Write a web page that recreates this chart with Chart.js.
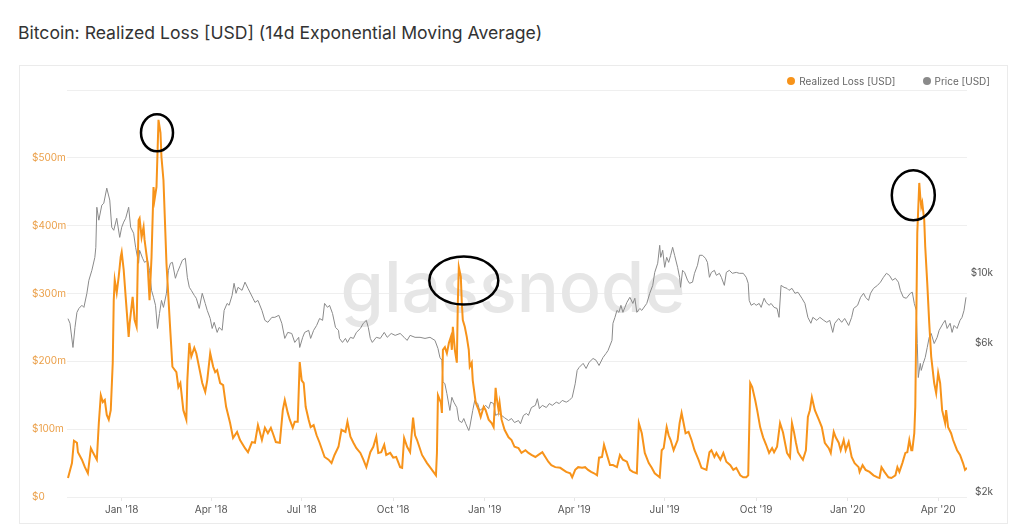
<!DOCTYPE html>
<html>
<head>
<meta charset="utf-8">
<title>Bitcoin: Realized Loss</title>
<script src="https://cdn.jsdelivr.net/npm/chart.js@4/dist/chart.umd.min.js"></script>
<style>
  body { margin: 0; background: #fff; width: 1024px; height: 531px; overflow: hidden; font-family: Inter, "Open Sans", sans-serif; }
  #title { position: absolute; left: 18px; top: 22px; font-size: 17.6px; line-height: 22px; color: #333; }
  #panel { position: absolute; left: 19px; top: 65px; width: 989px; height: 459px; border: 1px solid #ebebeb; box-sizing: border-box; }
  #chartWrap { position: absolute; left: 20px; top: 66px; width: 986px; height: 456px; }
  #legend { position: absolute; right: 34px; top: 75px; display: flex; gap: 27px; font-size: 10px; line-height: 12px; color: #666; }
  #legend span.item { display: flex; align-items: center; }
  #legend i { display: inline-block; width: 8px; height: 8px; border-radius: 50%; margin-right: 4px; }
</style>
</head>
<body>
<div id="title">Bitcoin: Realized Loss [USD] (14d Exponential Moving Average)</div>
<div id="panel"></div>
<div id="chartWrap"><canvas id="chart" width="986" height="456"></canvas></div>
<div id="legend"></div>
<script>
// x values are days since 2017-11-07
const lossDays = [
    1, 5, 7, 10, 11, 15, 18, 21, 24, 26,
    30, 32, 34, 36, 38, 40, 42, 44, 46, 47,
    48, 50, 52, 54, 55, 57, 59, 62, 63, 66,
    68, 70, 72, 73, 75, 77, 78, 81, 83, 85,
    87, 88, 90, 92, 94, 95, 97, 100, 104, 106,
    110, 112, 114, 117, 120, 121, 123, 125, 128, 130,
    134, 136, 139, 141, 144, 147, 149, 151, 154, 157,
    160, 164, 167, 171, 174, 179, 182, 186, 189, 192,
    196, 199, 202, 205, 207, 210, 214, 217, 219, 222,
    224, 227, 229, 232, 234, 236, 238, 240, 243, 245,
    248, 251, 254, 259, 263, 266, 269, 273, 276, 280,
    282, 285, 288, 291, 295, 298, 301, 305, 308, 311,
    313, 316, 319, 321, 325, 328, 331, 335, 337, 339,
    342, 345, 348, 350, 352, 357, 362, 365, 367, 371,
    372, 373, 376, 377, 378, 380, 382, 384, 386, 387,
    388, 390, 392, 393, 394, 396, 397, 398, 400, 402,
    404, 405, 407, 408, 411, 414, 416, 419, 421, 424,
    427, 429, 431, 432, 434, 435, 437, 440, 444, 447,
    450, 454, 457, 461, 464, 467, 471, 474, 478, 481,
    484, 487, 491, 496, 499, 502, 506, 508, 511, 514,
    518, 521, 524, 527, 530, 533, 535, 538, 540, 543,
    546, 549, 553, 556, 559, 563, 566, 569, 573, 575,
    578, 581, 585, 588, 591, 596, 598, 600, 603, 605,
    607, 610, 614, 616, 618, 620, 622, 625, 628, 631,
    635, 638, 643, 646, 648, 651, 653, 657, 660, 663,
    667, 670, 673, 677, 680, 683, 685, 687, 689, 692,
    694, 697, 700, 703, 706, 709, 711, 714, 717, 720,
    722, 724, 727, 729, 731, 733, 735, 738, 740, 743,
    745, 747, 749, 752, 756, 759, 762, 766, 768, 771,
    773, 776, 778, 781, 783, 786, 789, 792, 796, 797,
    800, 803, 807, 811, 815, 817, 819, 822, 826, 829,
    833, 835, 837, 840, 843, 845, 847, 849, 850, 852,
    853, 854, 855, 857, 858, 859, 860, 862, 863, 865,
    867, 869, 872, 874, 876, 878, 880, 883, 884, 886,
    889, 891, 895, 898, 901, 903, 905
];
// realized loss, millions of USD
const lossValues = [
    28, 50, 83, 80, 66, 55, 44, 35, 72, 66,
    55, 109, 150, 140, 143, 121, 114, 128, 198, 290,
    320, 301, 325, 354, 361, 335, 295, 236, 256, 295,
    261, 251, 408, 411, 383, 398, 379, 345, 290, 354,
    457, 438, 457, 556, 537, 501, 467, 345, 242, 192,
    184, 162, 168, 128, 114, 172, 227, 207, 220, 212,
    183, 168, 155, 172, 212, 192, 184, 187, 168, 165,
    133, 109, 87, 96, 84, 72, 66, 81, 80, 106,
    84, 102, 94, 102, 94, 81, 80, 128, 143, 124,
    114, 102, 111, 111, 199, 172, 168, 133, 114, 103,
    106, 91, 80, 59, 55, 50, 62, 74, 99, 96,
    111, 89, 80, 72, 65, 55, 44, 66, 74, 89,
    65, 66, 77, 62, 65, 58, 59, 44, 43, 87,
    74, 66, 117, 91, 84, 62, 50, 44, 40, 32,
    65, 150, 139, 124, 217, 221, 212, 227, 236, 217,
    251, 217, 198, 286, 339, 325, 286, 261, 251, 236,
    217, 192, 198, 172, 139, 128, 118, 133, 128, 114,
    109, 103, 161, 147, 128, 139, 114, 99, 88, 84,
    74, 72, 65, 69, 65, 62, 59, 62, 66, 59,
    52, 47, 44, 43, 40, 37, 35, 29, 40, 44,
    43, 44, 40, 37, 35, 32, 58, 59, 77, 62,
    47, 47, 44, 62, 55, 52, 40, 37, 35, 109,
    94, 65, 50, 43, 35, 29, 69, 72, 103, 91,
    84, 69, 84, 109, 124, 109, 94, 96, 84, 69,
    55, 43, 40, 66, 69, 59, 65, 55, 65, 52,
    47, 40, 43, 32, 29, 29, 32, 168, 162, 143,
    128, 103, 88, 77, 65, 72, 66, 74, 109, 95,
    80, 65, 58, 109, 96, 80, 66, 59, 55, 69,
    118, 128, 147, 128, 114, 103, 80, 72, 65, 96,
    88, 80, 69, 84, 69, 81, 59, 50, 44, 37,
    47, 40, 37, 32, 29, 28, 44, 37, 29, 28,
    32, 44, 37, 50, 65, 66, 84, 69, 69, 94,
    133, 257, 389, 463, 443, 428, 434, 408, 369, 316,
    257, 207, 168, 153, 183, 168, 128, 109, 128, 103,
    94, 84, 69, 62, 50, 40, 43
];

const priceDays = [
    1, 3, 6, 8, 10, 12, 15, 17, 20, 22,
    25, 28, 29, 30, 32, 35, 37, 40, 43, 45,
    47, 50, 53, 55, 57, 59, 62, 64, 67, 69,
    72, 73, 76, 78, 81, 83, 85, 87, 89, 91,
    93, 95, 97, 100, 102, 104, 106, 109, 111, 114,
    116, 119, 121, 123, 125, 128, 130, 133, 136, 139,
    141, 144, 146, 148, 151, 153, 156, 158, 161, 163,
    166, 168, 170, 172, 176, 179, 182, 187, 189, 192,
    196, 199, 202, 206, 209, 213, 216, 219, 222, 226,
    229, 233, 234, 237, 239, 243, 245, 248, 251, 254,
    257, 259, 262, 264, 267, 270, 273, 274, 277, 280,
    282, 285, 288, 291, 295, 298, 301, 303, 305, 307,
    311, 315, 319, 322, 326, 330, 335, 339, 342, 345,
    350, 355, 360, 365, 370, 373, 375, 377, 378, 380,
    382, 385, 387, 389, 392, 394, 397, 399, 401, 404,
    405, 408, 410, 413, 415, 419, 421, 424, 426, 429,
    431, 434, 437, 440, 444, 447, 450, 454, 456, 459,
    462, 464, 467, 471, 473, 475, 478, 482, 485, 488,
    492, 495, 498, 502, 505, 508, 511, 513, 515, 519,
    522, 525, 529, 532, 535, 539, 542, 544, 548, 549,
    551, 553, 555, 557, 559, 561, 563, 566, 569, 571,
    573, 576, 578, 583, 586, 589, 591, 594, 596, 597,
    599, 601, 603, 605, 607, 609, 611, 614, 616, 617,
    619, 621, 624, 626, 629, 631, 634, 636, 639, 642,
    644, 646, 648, 651, 653, 656, 658, 661, 663, 666,
    669, 673, 676, 680, 683, 685, 686, 688, 691, 693,
    696, 698, 701, 703, 706, 708, 711, 714, 716, 718,
    721, 724, 726, 729, 732, 735, 739, 742, 745, 748,
    750, 754, 757, 761, 764, 767, 770, 772, 776, 779,
    782, 786, 789, 791, 795, 798, 801, 803, 806, 808,
    811, 815, 818, 821, 824, 827, 830, 833, 836, 838,
    841, 844, 848, 850, 852, 854, 855, 856, 858, 859,
    861, 863, 865, 867, 869, 872, 875, 877, 881, 883,
    885, 888, 890, 892, 895, 898, 900, 902, 904
];
// BTC price, USD
const priceValues = [
    7160, 6920, 5790, 6710, 7500, 7720, 7900, 7780, 8630, 9500,
    10220, 11250, 12110, 16270, 14790, 16520, 16760, 18730, 17150, 14040,
    13730, 15000, 13030, 14040, 14580, 15000, 16270, 14040, 13430, 12110,
    10770, 11850, 11170, 10840, 11010, 10220, 8820, 8380, 7900, 6660,
    7440, 8190, 7780, 8630, 10220, 10770, 10840, 9640, 10070, 10610,
    11010, 11170, 9710, 9020, 8820, 8500, 8320, 7720, 8630, 8010,
    7610, 7170, 6660, 6970, 6470, 6710, 6570, 7610, 8010, 7900,
    8500, 9290, 8630, 9020, 8820, 9370, 8950, 8320, 8070, 8190,
    7610, 7070, 6970, 7230, 7230, 7340, 6920, 6190, 6470, 6420,
    6010, 6240, 5790, 6240, 6470, 6570, 6190, 6570, 6810, 7170,
    7070, 8010, 7780, 7900, 7440, 6710, 6570, 6190, 6010, 6190,
    6010, 6240, 6190, 6470, 6660, 6920, 7070, 6710, 6190, 6010,
    6240, 6190, 6470, 6240, 6420, 6330, 6420, 6240, 6100, 6330,
    6240, 6240, 6190, 6240, 6100, 5750, 5380, 5270, 4500, 4430,
    4120, 3640, 4010, 3870, 3720, 3380, 3330, 3430, 3300, 3140,
    3220, 3640, 3920, 3830, 3640, 3720, 3780, 3690, 3870, 3830,
    3510, 3560, 3510, 3450, 3380, 3430, 3330, 3380, 3300, 3510,
    3560, 3510, 3720, 3780, 3970, 3690, 3780, 3720, 3830, 3780,
    3870, 3830, 3920, 3870, 3920, 4010, 4430, 4890, 5000, 5150,
    4960, 5190, 5340, 5270, 5070, 5380, 5540, 5660, 6100, 6920,
    7230, 7610, 7500, 7900, 7500, 7780, 8070, 8380, 8010, 8320,
    7500, 7720, 7610, 8010, 8630, 9150, 10070, 10770, 12290, 11250,
    11850, 10450, 11250, 10840, 11420, 12110, 11420, 10450, 9710, 9020,
    10220, 10070, 9500, 9290, 9370, 10000, 10610, 11420, 11420, 11170,
    10840, 9710, 10070, 10220, 9850, 10000, 9710, 9150, 10070, 10220,
    10000, 10070, 10000, 10000, 9710, 9290, 8190, 7900, 8010, 7900,
    8010, 7780, 8320, 8070, 7900, 8010, 7780, 7720, 7230, 9150,
    9020, 8950, 8820, 8950, 8630, 8700, 8320, 8010, 7230, 6920,
    7230, 7070, 7230, 7070, 6970, 7070, 6470, 6920, 7170, 6970,
    7170, 6810, 7230, 7720, 7900, 8380, 8630, 8380, 8190, 8630,
    8950, 9150, 9370, 9710, 10000, 9850, 9500, 9640, 9370, 8820,
    8380, 8320, 8630, 8700, 8010, 7610, 5960, 4640, 5150, 4890,
    5150, 5380, 5790, 6240, 6420, 5960, 6240, 6570, 6920, 7070,
    6660, 6920, 6470, 6810, 6660, 7070, 7230, 7610, 8380
];

const xTickDays = [55, 145, 236, 328, 420, 510, 601, 693, 785, 876];
const xTickLabels = ["Jan '18", "Apr '18", "Jul '18", "Oct '18", "Jan '19", "Apr '19", "Jul '19", "Oct '19", "Jan '20", "Apr '20"];
const priceTicks = [2000, 6000, 10000];

// circled peaks (center in data units, radii in px)
const highlights = [
    { day: 90.5, loss: 537, rx: 16, ry: 18.5 },
    { day: 399, loss: 319, rx: 34.5, ry: 24 },
    { day: 851, loss: 445, rx: 21.5, ry: 25 }
];

const ORANGE = '#f7931a';
const GREY = '#8a8a8a';

const watermark = {
    id: 'watermark',
    beforeDatasetsDraw(chart) {
        const { ctx, chartArea: a } = chart;
        ctx.save();
        ctx.font = '500 70px Inter, "Open Sans", sans-serif';
        ctx.fillStyle = '#e6e6e6';
        ctx.textAlign = 'center';
        ctx.textBaseline = 'alphabetic';
        ctx.fillText('glassnode', (a.left + a.right) / 2 - 4, (a.top + a.bottom) / 2 + 18);
        ctx.restore();
    }
};

const circles = {
    id: 'circles',
    afterDatasetsDraw(chart) {
        const { ctx, scales } = chart;
        ctx.save();
        ctx.strokeStyle = '#000';
        ctx.lineWidth = 2.5;
        highlights.forEach(h => {
            const cx = scales.x.getPixelForValue(h.day);
            const cy = scales.y.getPixelForValue(h.loss);
            ctx.beginPath();
            ctx.ellipse(cx, cy, h.rx, h.ry, 0, 0, Math.PI * 2);
            ctx.stroke();
        });
        ctx.restore();
    }
};

Chart.defaults.font.family = 'Inter, "Open Sans", sans-serif';
Chart.defaults.font.size = 10;

const ctx = document.getElementById('chart').getContext('2d');
const chart = new Chart(ctx, {
    type: 'line',
    data: {
        datasets: [
            {
                label: 'Realized Loss [USD]',
                data: lossDays.map((d, i) => ({ x: d, y: lossValues[i] })),
                yAxisID: 'y',
                borderColor: ORANGE,
                backgroundColor: ORANGE,
                borderWidth: 2,
                pointRadius: 0,
                tension: 0
            },
            {
                label: 'Price [USD]',
                data: priceDays.map((d, i) => ({ x: d, y: priceValues[i] })),
                yAxisID: 'y1',
                borderColor: GREY,
                backgroundColor: GREY,
                borderWidth: 1,
                pointRadius: 0,
                tension: 0
            }
        ]
    },
    options: {
        responsive: false,
        animation: false,
        layout: { padding: { left: 12, right: 13, top: 24, bottom: 0 } },
        plugins: {
            legend: { display: false },
            tooltip: { enabled: false }
        },
        scales: {
            x: {
                type: 'linear',
                min: 0,
                max: 905,
                afterBuildTicks: scale => { scale.ticks = xTickDays.map(v => ({ value: v })); },
                afterFit: scale => { scale.height = 25; },
                ticks: {
                    color: '#555',
                    padding: 3,
                    maxRotation: 0,
                    autoSkip: false,
                    callback: v => xTickLabels[xTickDays.indexOf(v)]
                },
                grid: { drawOnChartArea: false, drawTicks: true, tickLength: 4, color: '#e6e6e6' },
                border: { display: false }
            },
            y: {
                position: 'left',
                min: 0,
                max: 600,
                afterFit: scale => { scale.width = 35; },
                ticks: {
                    stepSize: 100,
                    color: '#eba04a',
                    crossAlign: 'far',
                    padding: 0,
                    callback: v => v === 600 ? '' : (v === 0 ? '$0' : '$' + v + 'm')
                },
                grid: { color: '#efefef', drawTicks: false },
                border: { display: false }
            },
            y1: {
                type: 'logarithmic',
                position: 'right',
                min: 1924,
                max: 38600,
                afterBuildTicks: scale => { scale.ticks = priceTicks.map(v => ({ value: v })); },
                afterFit: scale => { scale.width = 26; },
                ticks: {
                    color: '#555',
                    crossAlign: 'far',
                    padding: 0,
                    callback: v => '$' + (v / 1000) + 'k'
                },
                grid: { display: false },
                border: { display: false }
            }
        }
    },
    plugins: [watermark, circles]
});

// legend built from the datasets
const legendEl = document.getElementById('legend');
chart.data.datasets.forEach(ds => {
    const item = document.createElement('span');
    item.className = 'item';
    item.innerHTML = '<i style="background:' + ds.borderColor + '"></i>' + ds.label;
    legendEl.appendChild(item);
});
</script>
</body>
</html>
